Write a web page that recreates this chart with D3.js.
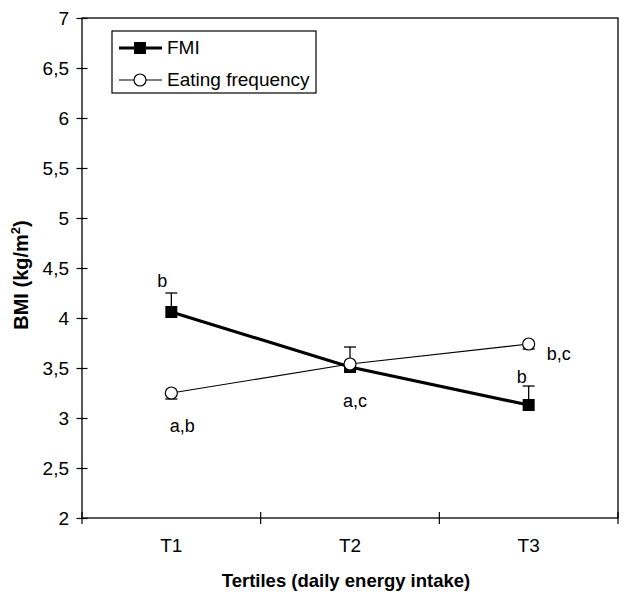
<!DOCTYPE html>
<html><head><meta charset="utf-8">
<script src="https://cdn.jsdelivr.net/npm/d3@7"></script>
<style>body{margin:0;background:#fff}svg{font-family:"Liberation Sans",Arial,sans-serif}</style>
</head><body><svg id="c" width="631" height="594"></svg>
<script>
const categories = ["T1","T2","T3"];
const fmiValues = [4.06, 3.51, 3.13];
const fmiErrorTop = [4.25, 3.71, 3.32];
const efValues = [3.25, 3.54, 3.74];
const efErrorBottom = [3.19, 3.47, 3.69];
const fmiLetters = ["b", "", "b"];
const efLetters = ["a,b", "a,c", "b,c"];
const yTicks = [2,2.5,3,3.5,4,4.5,5,5.5,6,6.5,7];

const FONT = "Liberation Sans, Arial, sans-serif";
const svg = d3.select("#c");
const L=82, R=618, T=18, B=518;
const y = d3.scaleLinear().domain([2,7]).range([B,T]);
const xBand = d3.scaleBand().domain(categories).range([L,R]);
const xPt = c => xBand(c) + xBand.bandwidth()/2;

// frame
svg.append("rect").attr("x",L).attr("y",T).attr("width",R-L).attr("height",B-T)
  .attr("fill","none").attr("stroke","#000").attr("stroke-width",1.3);

// y axis
const ya = svg.append("g").attr("transform",`translate(${L},0)`)
  .call(d3.axisLeft(y).tickValues(yTicks).tickSize(11)
  .tickFormat(d=>String(d).replace(".",",")));
ya.select(".domain").remove();
ya.selectAll(".tick line").attr("transform","translate(5.5,0)").attr("stroke-width",1.2);
ya.selectAll("text").attr("font-size",19).attr("fill","#000").attr("font-family",FONT).attr("x",-13).attr("dy","0.35em");

// x axis
const xa = svg.append("g").attr("transform",`translate(0,${B})`)
  .call(d3.axisBottom(xBand).tickSize(0));
xa.select(".domain").remove();
xa.selectAll("text").attr("font-size",19).attr("fill","#000").attr("font-family",FONT).attr("y",34).attr("dy",0);
const xBounds = [L, ...categories.map(c=>xBand(c)+xBand.bandwidth())];
svg.append("g").selectAll("line").data(xBounds).join("line")
  .attr("x1",d=>d).attr("x2",d=>d).attr("y1",B-6).attr("y2",B+6)
  .attr("stroke","#000").attr("stroke-width",1.2);

// titles
svg.append("text").attr("x",(L+R)/2-4).attr("y",587).attr("text-anchor","middle")
  .attr("font-size",18.5).attr("font-weight","bold").text("Tertiles (daily energy intake)");
const yt = svg.append("text").attr("transform",`translate(28,275) rotate(-90)`)
  .attr("text-anchor","middle").attr("font-size",20).attr("font-weight","bold");
yt.append("tspan").text("BMI (kg/m");
yt.append("tspan").attr("font-size",13).attr("dy",-8).text("2");
yt.append("tspan").attr("dy",8).text(")");

// error bars
const fmiData = categories.map((c,i)=>({c,v:fmiValues[i],e:fmiErrorTop[i],l:fmiLetters[i]}));
const efData = categories.map((c,i)=>({c,v:efValues[i],e:efErrorBottom[i],l:efLetters[i]}));
const eb = svg.append("g").attr("stroke","#000").attr("stroke-width",1.3);
[...fmiData, ...efData].forEach(d=>{
  eb.append("line").attr("x1",xPt(d.c)).attr("x2",xPt(d.c)).attr("y1",y(d.v)).attr("y2",y(d.e));
  eb.append("line").attr("x1",xPt(d.c)-6).attr("x2",xPt(d.c)+6).attr("y1",y(d.e)).attr("y2",y(d.e));
});

// lines
const line = d3.line().x(d=>xPt(d.c)).y(d=>y(d.v));
svg.append("path").datum(efData).attr("d",line).attr("fill","none").attr("stroke","#000").attr("stroke-width",1.2);
svg.append("path").datum(fmiData).attr("d",line).attr("fill","none").attr("stroke","#000").attr("stroke-width",3.2);

// markers
svg.append("g").selectAll("rect").data(fmiData).join("rect")
  .attr("x",d=>xPt(d.c)-6).attr("y",d=>y(d.v)-6).attr("width",12).attr("height",12).attr("fill","#000");
svg.append("g").selectAll("circle").data(efData).join("circle")
  .attr("cx",d=>xPt(d.c)).attr("cy",d=>y(d.v)).attr("r",6)
  .attr("fill","#fff").attr("stroke","#000").attr("stroke-width",1.2);

// letters
const lt = svg.append("g").attr("font-size",18).attr("fill","#000");
const fmiOff = [[-9,-25],[0,0],[-7,-22]];
fmiData.forEach((d,i)=>{ if(d.l) lt.append("text").attr("x",xPt(d.c)+fmiOff[i][0]).attr("y",y(d.v)+fmiOff[i][1]).attr("text-anchor","middle").text(d.l); });
const efOff = [[11,39],[5,43],[30,16]];
efData.forEach((d,i)=>{ lt.append("text").attr("x",xPt(d.c)+efOff[i][0]).attr("y",y(d.v)+efOff[i][1]).attr("text-anchor","middle").text(d.l); });

// legend
const lg = svg.append("g");
lg.append("rect").attr("x",112).attr("y",31).attr("width",204).attr("height",62)
  .attr("fill","#fff").attr("stroke","#000").attr("stroke-width",1.2);
lg.append("line").attr("x1",119).attr("x2",162).attr("y1",48).attr("y2",48).attr("stroke","#000").attr("stroke-width",3);
lg.append("rect").attr("x",134).attr("y",42).attr("width",12).attr("height",12).attr("fill","#000");
lg.append("text").attr("x",167).attr("y",54).attr("font-size",19).text("FMI");
lg.append("line").attr("x1",119).attr("x2",162).attr("y1",80).attr("y2",80).attr("stroke","#000").attr("stroke-width",1.2);
lg.append("circle").attr("cx",140).attr("cy",80).attr("r",6).attr("fill","#fff").attr("stroke","#000").attr("stroke-width",1.2);
lg.append("text").attr("x",167).attr("y",86).attr("font-size",19).text("Eating frequency");
</script></body></html>
